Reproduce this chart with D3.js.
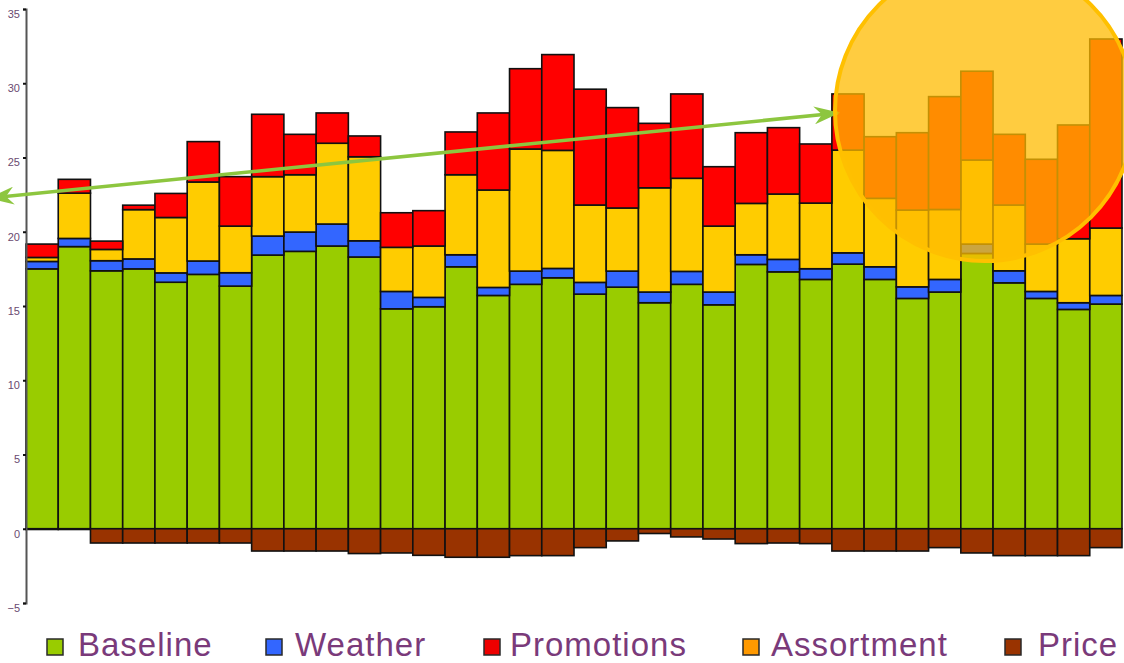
<!DOCTYPE html>
<html>
<head>
<meta charset="utf-8">
<script src="https://cdn.jsdelivr.net/npm/d3@7"></script>
<style>
  html, body { margin: 0; padding: 0; background: #ffffff; }
  svg { display: block; }
</style>
</head>
<body>
<svg id="chart" width="1124" height="663"></svg>
<script>
// Weekly sales decomposition (units in thousands)
const periods = ["W01","W02","W03","W04","W05","W06","W07","W08","W09","W10",
                 "W11","W12","W13","W14","W15","W16","W17","W18","W19","W20",
                 "W21","W22","W23","W24","W25","W26","W27","W28","W29","W30",
                 "W31","W32","W33","W34"];

const baseline = [17.5, 19.0, 17.37, 17.5, 16.6, 17.13, 16.34, 18.43, 18.68, 19.04,
                  18.3, 14.81, 14.95, 17.64, 15.71, 16.46, 16.9, 15.8, 16.27, 15.22,
                  16.46, 15.08, 17.8, 17.3, 16.79, 17.82, 16.79, 15.51, 15.94, 18.54,
                  16.56, 15.51, 14.77, 15.13];

const weather = [0.5, 0.55, 0.68, 0.67, 0.63, 0.9, 0.9, 1.28, 1.3, 1.48,
                 1.09, 1.17, 0.63, 0.81, 0.54, 0.89, 0.63, 0.79, 1.08, 0.72,
                 0.87, 0.86, 0.65, 0.84, 0.72, 0.76, 0.85, 0.78, 0.85, 0.63,
                 0.81, 0.47, 0.45, 0.58];

const assortment = [0.27, 3.05, 0.76, 3.32, 3.73, 5.32, 3.14, 4.0, 3.86, 5.44,
                    5.66, 2.97, 3.46, 5.39, 6.56, 8.22, 7.95, 5.21, 4.25, 7.02,
                    6.27, 4.44, 3.46, 4.4, 4.42, 6.92, 4.61, 5.17, 4.71, 5.66,
                    4.43, 3.19, 4.31, 4.54];

const promotions = [0.9, 0.93, 0.56, 0.3, 1.62, 2.72, 3.33, 4.2, 2.72, 2.04,
                    1.4, 2.33, 2.38, 2.88, 5.19, 5.41, 6.45, 7.8, 6.76, 4.34,
                    5.68, 4.0, 4.76, 4.47, 3.98, 3.78, 4.15, 5.21, 7.6, 5.98,
                    4.76, 5.71, 7.66, 12.73];

const price = [-0.05, -0.05, -0.96, -0.96, -0.96, -0.96, -0.96, -1.5, -1.5, -1.5,
               -1.67, -1.63, -1.79, -1.92, -1.92, -1.81, -1.81, -1.27, -0.82, -0.32,
               -0.55, -0.69, -1.0, -0.96, -1.0, -1.5, -1.5, -1.5, -1.27, -1.63,
               -1.81, -1.81, -1.81, -1.27];

const yTicks = [-5, 0, 5, 10, 15, 20, 25, 30, 35];

const legendNames = ["Baseline", "Weather", "Promotions", "Assortment", "Price"];

// Build rows for the stack layout
const rows = periods.map((p, i) => ({
  period: p,
  Baseline: baseline[i],
  Weather: weather[i],
  Assortment: assortment[i],
  Promotions: promotions[i],
  Price: price[i]
}));

// Stack order, bottom to top
const stackKeys = ["Baseline", "Weather", "Assortment", "Promotions", "Price"];

const barColor = {
  Baseline: "#99cc00",
  Weather: "#3366ff",
  Assortment: "#ffcc00",
  Promotions: "#ff0000",
  Price: "#993300"
};
const swatchColor = {
  Baseline: "#99cc00",
  Weather: "#3366ff",
  Promotions: "#ee0000",
  Assortment: "#ff9900",
  Price: "#993300"
};

const svg = d3.select("#chart");

const x = d3.scaleBand().domain(periods).range([26, 1122]).padding(0);
const y = d3.scaleLinear().domain([-5, 35]).range([603, 9]);

const series = d3.stack()
  .keys(stackKeys)
  .offset(d3.stackOffsetDiverging)(rows);

// Bars
const layers = svg.append("g").attr("class", "bars")
  .selectAll("g")
  .data(series)
  .join("g")
  .attr("fill", d => barColor[d.key]);

layers.selectAll("rect")
  .data(d => d)
  .join("rect")
  .attr("x", d => x(d.data.period))
  .attr("width", x.bandwidth())
  .attr("y", d => y(Math.max(d[0], d[1])))
  .attr("height", d => Math.abs(y(d[0]) - y(d[1])))
  .attr("stroke", "#111")
  .attr("stroke-width", 1.6);

// Y axis
const axis = d3.axisLeft(y)
  .tickValues(yTicks)
  .tickSize(3)
  .tickPadding(3)
  .tickFormat(d3.format("d"));

const axisG = svg.append("g")
  .attr("transform", "translate(26,0)")
  .call(axis);

axisG.select(".domain")
  .attr("stroke", "#555")
  .attr("stroke-width", 2);
axisG.selectAll(".tick line")
  .attr("stroke", "#111")
  .attr("stroke-width", 2);
axisG.selectAll(".tick text")
  .attr("fill", "#6a4a70")
  .attr("dy", "0.75em")
  .style("font-family", "'Liberation Sans Narrow', 'Liberation Sans', sans-serif")
  .style("font-size", "11px");

// Trend arrow
const defs = svg.append("defs");
defs.append("marker")
  .attr("id", "arrowHead")
  .attr("viewBox", "0 0 26 18")
  .attr("refX", 24)
  .attr("refY", 9)
  .attr("markerWidth", 26)
  .attr("markerHeight", 18)
  .attr("markerUnits", "userSpaceOnUse")
  .attr("orient", "auto-start-reverse")
  .append("path")
  .attr("d", "M0,0 L26,9 L0,18 L8,9 Z")
  .attr("fill", "#8dc63f");

svg.append("line")
  .attr("x1", -10).attr("y1", 198)
  .attr("x2", 838).attr("y2", 113)
  .attr("stroke", "#8dc63f")
  .attr("stroke-width", 3.5)
  .attr("marker-start", "url(#arrowHead)")
  .attr("marker-end", "url(#arrowHead)");

// Highlight circle
svg.append("circle")
  .attr("cx", 985)
  .attr("cy", 111)
  .attr("r", 150)
  .attr("fill", "#ffbb00")
  .attr("fill-opacity", 0.75)
  .attr("stroke", "#ffc000")
  .attr("stroke-width", 4);

// Legend
const legendX = [47, 266, 484, 743, 1005];
const legendTextX = [78, 295, 510, 771, 1038];
const legend = svg.append("g").attr("class", "legend");
const item = legend.selectAll("g")
  .data(legendNames)
  .join("g");

item.append("rect")
  .attr("x", (d, i) => legendX[i])
  .attr("y", 639)
  .attr("width", 16)
  .attr("height", 16)
  .attr("fill", d => swatchColor[d])
  .attr("stroke", "#2a2a2a")
  .attr("stroke-width", 1.5);

item.append("text")
  .attr("x", (d, i) => legendTextX[i])
  .attr("y", 656)
  .attr("fill", "#7a3a7a")
  .style("font-family", "'Liberation Sans', Arial, sans-serif")
  .style("font-size", "33px")
  .style("letter-spacing", "1px")
  .text(d => d);
</script>
</body>
</html>
